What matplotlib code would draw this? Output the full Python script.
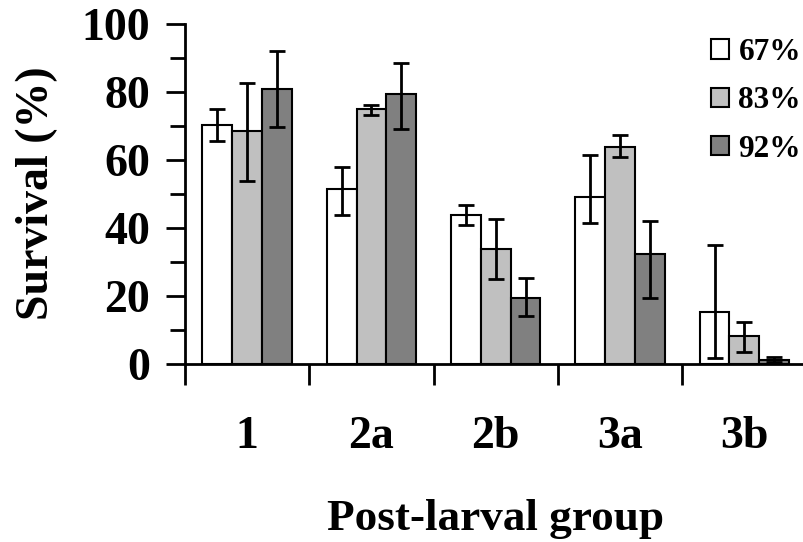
import matplotlib
matplotlib.use("Agg")
import matplotlib.pyplot as plt
import numpy as np
from matplotlib.patches import Patch

groups = ['1', '2a', '2b', '3a', '3b']
series = ['67%', '83%', '92%']
colors = ['#FFFFFF', '#C0C0C0', '#808080']

s67 = [70.1, 51.4, 43.8, 49.1, 15.1]
s67_hi = [74.9, 57.9, 46.7, 61.4, 35.0]
s67_lo = [65.4, 43.8, 40.9, 41.4, 1.7]
s83 = [68.4, 74.9, 33.8, 63.8, 8.1]
s83_hi = [82.6, 76.1, 42.6, 67.2, 12.3]
s83_lo = [53.7, 73.1, 25.0, 60.8, 3.4]
s92 = [80.7, 79.4, 19.2, 32.1, 1.2]
s92_hi = [91.8, 88.4, 25.1, 42.0, 1.9]
s92_lo = [69.5, 69.0, 13.9, 19.2, 0.6]

vals = [s67, s83, s92]
his = [s67_hi, s83_hi, s92_hi]
los = [s67_lo, s83_lo, s92_lo]

plt.rcParams['font.family'] = ['Liberation Serif', 'DejaVu Serif']
plt.rcParams['font.weight'] = 'bold'

fig = plt.figure(figsize=(8.04, 5.42), dpi=100)
W, H = 804, 542
x0, x1 = 185, 806.5
y0, y1 = 363.7, 23.5
ax = fig.add_axes([x0 / W, 1 - y0 / H, (x1 - x0) / W, (y0 - y1) / H])

x = np.arange(len(groups))
bw = 0.24
for i, (v, hi, lo, c) in enumerate(zip(vals, his, los, colors)):
    xp = x + (i - 1) * bw
    ax.bar(xp, v, width=bw, color=c, edgecolor='black', linewidth=1.5, zorder=2)
    v = np.array(v)
    err = np.vstack([v - np.array(lo), np.array(hi) - v])
    ax.errorbar(xp, v, yerr=err, fmt='none', ecolor='black', elinewidth=2,
                capsize=5.5, capthick=2, zorder=3)

ax.set_xlim(-0.5, 4.5)
ax.set_ylim(0, 100)
for s in ['top', 'right']:
    ax.spines[s].set_visible(False)
for s in ['left', 'bottom']:
    ax.spines[s].set_linewidth(2)

ax.set_yticks(np.arange(0, 101, 20))
ax.set_yticks(np.arange(10, 100, 20), minor=True)
ax.tick_params(axis='y', which='major', length=14, width=2, direction='out',
               labelsize=33, pad=11)
ax.tick_params(axis='y', which='minor', length=11, width=2, direction='out')

ax.set_xticks(np.arange(-0.5, 4.0, 1.0))
ax.set_xticklabels([])
ax.set_xticks(x, minor=True)
ax.set_xticklabels(groups, minor=True)
ax.tick_params(axis='x', which='major', length=15, width=2, direction='out')
ax.tick_params(axis='x', which='minor', length=0, labelsize=33, pad=38)

ax.set_ylabel('Survival (%)', fontsize=33, fontweight='bold', labelpad=17)
ax.set_xlabel('Post-larval group', fontsize=32.5, fontweight='bold', labelpad=29)

handles = [Patch(facecolor=c, edgecolor='black', linewidth=1.5) for c in colors]
leg = ax.legend(handles, series, loc='upper right', bbox_to_anchor=(801 / W, 1 - 38 / H),
                bbox_transform=fig.transFigure, frameon=False, fontsize=22.5,
                handlelength=0.58, handleheight=0.58, handletextpad=0.29,
                labelspacing=0.62, borderaxespad=0, borderpad=0)

fig.savefig('out.png', dpi=100)
